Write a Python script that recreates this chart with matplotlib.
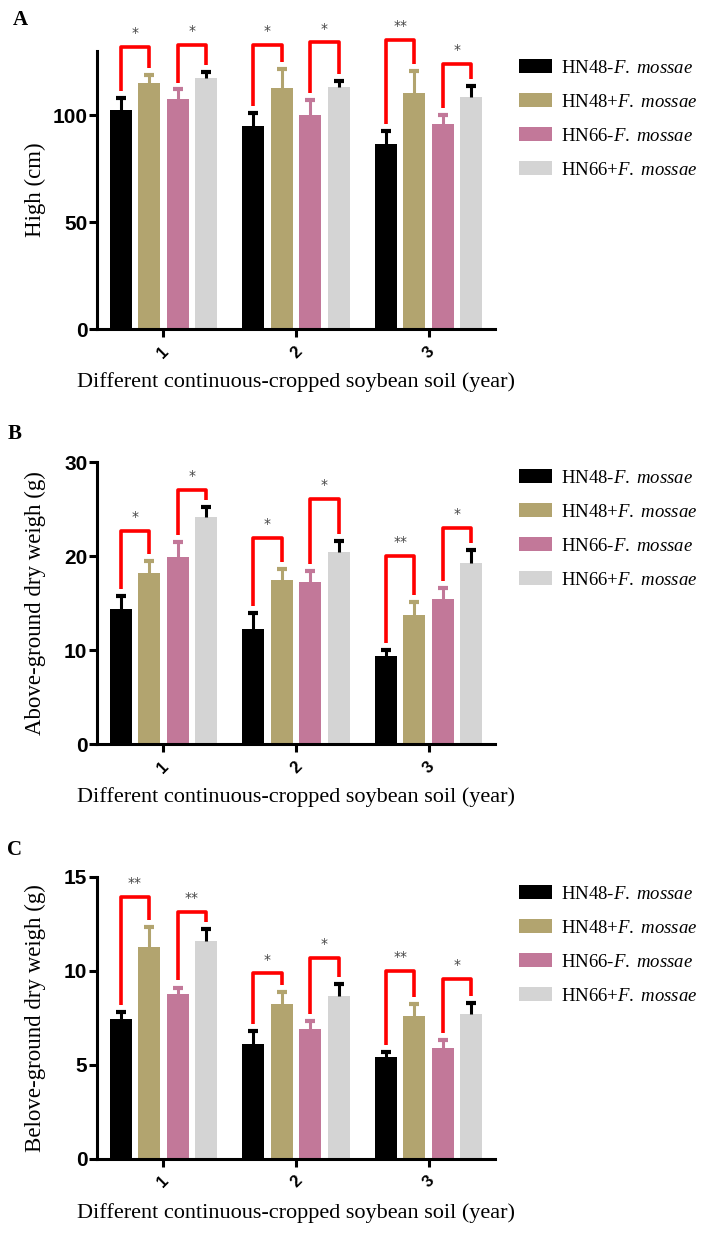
import matplotlib
matplotlib.use("Agg")
import matplotlib.pyplot as plt
import numpy as np

plt.rcParams["mathtext.fontset"] = "custom"
plt.rcParams["mathtext.rm"] = "Liberation Serif"
plt.rcParams["mathtext.it"] = "Liberation Serif:italic"

GROUPS = ["1", "2", "3"]
SERIES = [r"HN48-$\it{F.\ mossae}$", r"HN48+$\it{F.\ mossae}$",
          r"HN66-$\it{F.\ mossae}$", r"HN66+$\it{F.\ mossae}$"]
COLORS = ["#000000", "#b2a46f", "#c27899", "#d4d4d4"]
ERR_COLORS = ["#000000", "#b2a46f", "#c27899", "#000000"]

# panel A: plant height (cm), rows = series, cols = years
HIGH_MEAN = [[102.5, 95, 86.5], [115, 112.5, 110.5],
             [107.5, 100, 96], [117.5, 113, 108.5]]
HIGH_ERR = [[5.5, 6, 6], [4, 9, 10], [4.5, 7, 4], [2.5, 3, 5]]
HIGH_BRACKET = [132, 133, 133, 134, 135, 124]
HIGH_STARS = ["*", "*", "*", "*", "**", "*"]

# panel B: above-ground dry weight (g)
ABOVE_MEAN = [[14.4, 12.2, 9.4], [18.2, 17.4, 13.7],
              [19.9, 17.2, 15.4], [24.2, 20.4, 19.3]]
ABOVE_ERR = [[1.3, 1.7, 0.6], [1.3, 1.2, 1.4], [1.6, 1.2, 1.2], [1.0, 1.2, 1.3]]
ABOVE_BRACKET = [22.7, 27.0, 21.9, 26.1, 20.0, 23.0]
ABOVE_STARS = ["*", "*", "*", "*", "**", "*"]

# panel C: below-ground dry weight (g)
BELOW_MEAN = [[7.4, 6.1, 5.4], [11.25, 8.2, 7.6],
              [8.75, 6.9, 5.9], [11.6, 8.65, 7.7]]
BELOW_ERR = [[0.4, 0.7, 0.25], [1.05, 0.65, 0.6], [0.35, 0.4, 0.4], [0.6, 0.65, 0.6]]
BELOW_BRACKET = [13.9, 13.1, 9.85, 10.65, 10.0, 9.55]
BELOW_STARS = ["**", "**", "*", "*", "**", "*"]

XLABEL = "Different continuous-cropped soybean soil (year)"

W, H = 701, 1240
fig = plt.figure(figsize=(W / 100, H / 100), dpi=100)

PITCH = 0.215
BAR_W = 0.166
SERIF = "Liberation Serif"
SANS = "Liberation Sans"


def draw_panel(rect, letter, means, errs, brackets, stars, ylim, yticks, ylabel,
               xlabel_y, legend_y):
    x0, y_top, x1, y_bot = rect
    ax = fig.add_axes([x0 / W, 1 - y_bot / H, (x1 - x0) / W, (y_bot - y_top) / H])
    x = np.arange(len(GROUPS))
    offsets = (np.arange(4) - 1.5) * PITCH
    for i in range(4):
        ax.bar(x + offsets[i], means[i], BAR_W, color=COLORS[i], label=SERIES[i], zorder=2)
        eb = ax.errorbar(x + offsets[i], means[i], yerr=[np.zeros(3), errs[i]], fmt="none",
                         ecolor=ERR_COLORS[i], elinewidth=2.2, capsize=3.3, capthick=3,
                         zorder=3)
        eb[1][0].set_visible(False)  # hide the lower cap sitting on the bar top

    gap = 0.025 * ylim
    k = 0
    for g in range(3):
        for a, b in [(0, 1), (2, 3)]:
            xa, xb = g + offsets[a], g + offsets[b]
            ya = means[a][g] + errs[a][g] + gap
            yb = means[b][g] + errs[b][g] + gap
            top = brackets[k]
            ax.plot([xa, xa, xb, xb], [ya, top, top, yb], color="#ff0000", lw=2.6,
                    solid_joinstyle="round", solid_capstyle="butt", clip_on=False, zorder=4)
            ax.annotate(stars[k], ((xa + xb) / 2, top), xytext=(0, 5), textcoords="offset points",
                        ha="center", va="bottom", fontsize=10, color="#444444",
                        family="DejaVu Sans", annotation_clip=False)
            k += 1

    ax.set_xlim(-0.5, 2.5)
    ax.set_ylim(0, ylim)
    ax.set_yticks(yticks)
    ax.set_xticks(x)
    ax.set_xticklabels(GROUPS, rotation=45, ha="center", va="top")
    for s in ["top", "right"]:
        ax.spines[s].set_visible(False)
    for s in ["left", "bottom"]:
        ax.spines[s].set_linewidth(2.2)
    ax.tick_params(axis="both", length=5.5, width=2.2, pad=1.5)
    ax.tick_params(axis="x", pad=5)
    for lab in ax.get_yticklabels():
        lab.set_fontfamily(SANS)
        lab.set_fontweight("bold")
        lab.set_fontsize(15)
    for lab in ax.get_xticklabels():
        lab.set_fontfamily(SANS)
        lab.set_fontweight("bold")
        lab.set_fontsize(12)

    ax.set_ylabel(ylabel, fontsize=16.5, family=SERIF)
    ax.yaxis.set_label_coords((46 - x0) / (x1 - x0), 0.5)
    ax.set_xlabel(XLABEL, fontsize=16, family=SERIF)
    ax.xaxis.label.set_va("center")
    ax.xaxis.set_label_coords(0.5, (y_bot - xlabel_y) / (y_bot - y_top))

    fig.text(letter[1] / W, 1 - letter[2] / H, letter[0], fontsize=15, fontweight="bold",
             family=SERIF, ha="center", va="center")

    ax.legend(loc="center left", bbox_to_anchor=(519 / W, 1 - legend_y / H),
              bbox_transform=fig.transFigure, frameon=False, borderpad=0, borderaxespad=0,
              handlelength=1.75, handleheight=0.7, handletextpad=0.5, labelspacing=0.9,
              prop={"family": SERIF, "size": 13.5})
    return ax


draw_panel((97, 51, 495, 329), ("A", 20, 20), HIGH_MEAN, HIGH_ERR, HIGH_BRACKET, HIGH_STARS,
           130, [0, 50, 100], "High (cm)", 382, 119)
draw_panel((97, 462, 495, 744), ("B", 15, 434), ABOVE_MEAN, ABOVE_ERR, ABOVE_BRACKET, ABOVE_STARS,
           30, [0, 10, 20, 30], "Above-ground dry weigh (g)", 797, 529)
draw_panel((97, 876.7, 495, 1158.5), ("C", 15, 850), BELOW_MEAN, BELOW_ERR, BELOW_BRACKET,
           BELOW_STARS, 15, [0, 5, 10, 15], "Belove-ground dry weigh (g)", 1213, 945)

fig.savefig("out.png", dpi=100)
